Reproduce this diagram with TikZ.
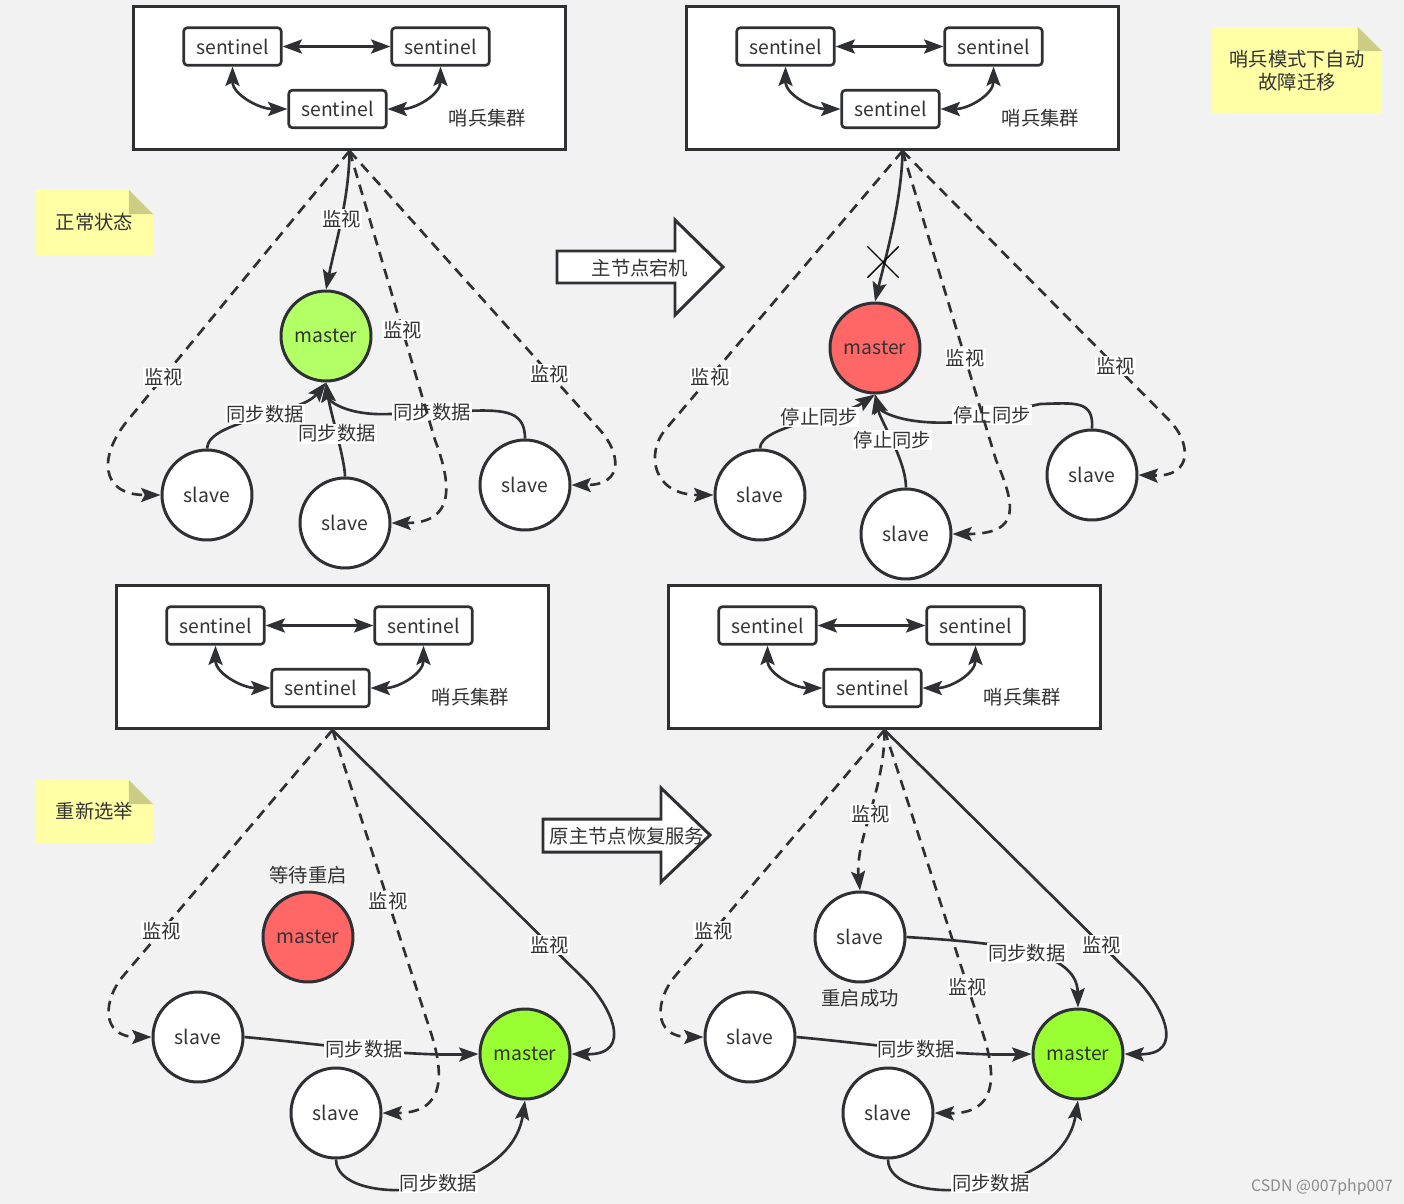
\documentclass[tikz,border=0pt]{standalone}
\usepackage{fontspec}
\setmainfont{Noto Sans CJK SC}
\usetikzlibrary{arrows.meta,positioning,shapes.misc}
\definecolor{bgc}{RGB}{242,242,242}
\definecolor{linec}{RGB}{46,48,52}
\definecolor{txtc}{RGB}{51,51,51}
\definecolor{okgreen}{RGB}{178,255,102}
\definecolor{newgreen}{RGB}{153,255,51}
\definecolor{downred}{RGB}{255,102,102}
\definecolor{notey}{RGB}{255,255,165}
\definecolor{notef}{RGB}{204,204,132}
\tikzset{
  txt/.style = {font=\fontsize{11}{13}\selectfont, text=txtc},
  clus/.style = {draw=linec, fill=white, line width=1.7pt,
    minimum width=8.66cm, minimum height=2.86cm},% cadre du groupe
  sen_n/.style = {txt, draw=linec, fill=white, line width=1.5pt,
    rounded corners=2pt, minimum width=1.95cm, minimum height=0.75cm,
    inner sep=0pt},% sentinelle
  rd/.style = {txt, circle, draw=linec, line width=1.7pt,
    minimum size=1.8cm, inner sep=0pt},% noeud rond
  slave_n/.style = {rd, fill=white},% esclave
  master_g/.style = {rd, fill=okgreen},% maitre, etat normal
  master_x/.style = {rd, fill=downred},% maitre en panne
  master_n/.style = {rd, fill=newgreen},% nouveau maitre
  lbl/.style = {txt, fill=white, inner sep=0.6pt},% etiquette de lien
  mon/.style = {->, draw=linec, line width=1.5pt},
  mon_d/.style = {mon, dash pattern=on 6pt off 4pt},
  blk/.style = {draw=linec, fill=white, line width=1.7pt, line join=miter},
  note_n/.style = {txt, fill=notey, inner sep=0pt,
    path picture={
      \fill[bgc] ([xshift=-0.48cm]path picture bounding box.north east)
        -- (path picture bounding box.north east)
        -- ([yshift=-0.48cm]path picture bounding box.north east) -- cycle;
      \fill[notef] ([xshift=-0.48cm]path picture bounding box.north east)
        -- ([xshift=-0.48cm,yshift=-0.48cm]path picture bounding box.north east)
        -- ([yshift=-0.48cm]path picture bounding box.north east) -- cycle;}},% note jaune
  wm_t/.style = {font=\fontsize{9}{11}\selectfont, text=black!45}
}
\begin{document}
\begin{tikzpicture}[x=0.02cm, y=-0.02cm,
                    >={Stealth[length=11pt,width=8pt,inset=2pt]}]
  \useasboundingbox (0,0) rectangle (1404,1204);
  \fill[bgc] (0,0) rectangle (1404,1204);

  \foreach \i/\bx/\by in {1/133/6, 2/686/6, 3/116/585, 4/668/585}{
    \node[clus] (cl\i) at ({\bx+216.5},{\by+72}) {};
    \node[sen_n] (sa\i) at ({\bx+99.5},{\by+40.5}) {sentinel};
    \node[sen_n] (sb\i) at ({\bx+307.5},{\by+40.5}) {sentinel};
    \node[sen_n] (sc\i) at ({\bx+204.5},{\by+103}) {sentinel};
    \node[txt] (lb\i) at ({\bx+354.5},{\by+112}) {哨兵集群};
    \draw[mon,<->] (sa\i) -- (sb\i);
    \draw[mon,<->] (sa\i.south) .. controls +(0,28) and +(-28,0) .. (sc\i.west);
    \draw[mon,<->] (sb\i.south) .. controls +(0,28) and +(28,0) .. (sc\i.east);
  }

  \node[note_n, minimum width=2.34cm, minimum height=1.3cm] (n1) at (94.5,222.5) {正常状态};
  \node[note_n, align=center, minimum width=3.4cm, minimum height=1.74cm] (n2) at (1297,70.5) {哨兵模式下自动\\故障迁移};
  \node[note_n, minimum width=2.34cm, minimum height=1.26cm] (n3) at (94.5,811.5) {重新选举};

  \draw[blk] (557,251) -- (675,251) -- (675,220) -- (723,267) -- (675,315) -- (675,283) -- (557,283) -- cycle;
  \node[txt] (ar1) at (640,268) {主节点宕机};
  \draw[blk] (543,819) -- (661,819) -- (661,788) -- (710,835) -- (661,882) -- (661,852) -- (543,852) -- cycle;
  \node[txt] (ar2) at (627,836) {原主节点恢复服务};

  \node[master_g] (m1) at (326,336) {master};
  \node[slave_n] (s11) at (207,495) {slave};
  \node[slave_n] (s12) at (345,523) {slave};
  \node[slave_n] (s13) at (525,485) {slave};
  \draw[mon] (s11.north) .. controls (208,420) and (300,415) .. (m1.south) node[lbl,pos=0.55] {同步数据};
  \draw[mon] (s13.north) .. controls (525,408) and (500,410) .. (460,411) -- (390,414) node[lbl,pos=0.4] {同步数据} .. controls (345,416) and (328,400) .. (m1.south);
  \draw[mon] (s12.north) .. controls (345,460) and (330,410) .. (m1.south) node[lbl,pos=0.5] {同步数据};
  \draw[mon] (cl1.south) .. controls (349,200) and (335,245) .. (m1.north) node[lbl,pos=0.48] {监视};
  \draw[mon_d] (cl1.south) -- (128,420) node[lbl,pos=0.84] {监视} .. controls (98,456) and (100,495) .. (s11.west);
  \draw[mon_d] (cl1.south) -- (435,440) node[lbl,pos=0.62] {监视} .. controls (452,485) and (455,523) .. (s12.east);
  \draw[mon_d] (cl1.south) -- (600,430) node[lbl,pos=0.8] {监视} .. controls (620,452) and (625,485) .. (s13.east);

  \node[master_x] (m2) at (875,348) {master};
  \node[slave_n] (s21) at (760,495) {slave};
  \node[slave_n] (s22) at (906,534) {slave};
  \node[slave_n] (s23) at (1092,475) {slave};
  \draw[mon] (s21.north) .. controls (760,425) and (840,418) .. (m2.south) node[lbl,pos=0.6] {停止同步};
  \draw[mon] (s23.north) .. controls (1094,400) and (1075,403) .. (1040,404) -- (960,422) node[lbl,pos=0.6] {停止同步} .. controls (900,426) and (880,410) .. (m2.south);
  \draw[mon] (s22.north) .. controls (906,460) and (880,420) .. (m2.south) node[lbl,pos=0.5] {停止同步};
  \draw[mon] (cl2.south) .. controls (902,200) and (885,260) .. (m2.north);
  \node[draw=black, cross out, line width=0.8pt, minimum size=0.6cm, inner sep=0pt] (x2) at (883,262) {};
  \draw[mon_d] (cl2.south) -- (665,430) node[lbl,pos=0.81] {监视} .. controls (646,453) and (652,495) .. (s21.west);
  \draw[mon_d] (cl2.south) -- (996,460) node[lbl,pos=0.67] {监视} .. controls (1015,505) and (1022,534) .. (s22.east);
  \draw[mon_d] (cl2.south) -- (1169,420) node[lbl,pos=0.8] {监视} .. controls (1190,441) and (1195,477) .. (s23.east);

  \node[master_x] (m3) at (308,937) {master};
  \node[txt, above=0pt of m3] (w3) {等待重启};
  \node[slave_n] (s31) at (198,1037) {slave};
  \node[slave_n] (s32) at (336,1113) {slave};
  \node[master_n] (mg3) at (525,1054) {master};
  \draw[mon] (s31.east) .. controls (330,1045) and (400,1056) .. (mg3.west) node[lbl,pos=0.5] {同步数据};
  \draw[mon] (s32.south) .. controls (336,1210) and (510,1200) .. (mg3.south) node[lbl,pos=0.55] {同步数据};
  \draw[mon_d] (cl3.south) -- (124,975) node[lbl,pos=0.82] {监视} .. controls (103,999) and (100,1037) .. (s31.west);
  \draw[mon_d] (cl3.south) -- (430,1030) node[lbl,pos=0.57] {监视} .. controls (445,1075) and (445,1113) .. (s32.east);
  \draw[mon] (cl3.south) -- (585,980) node[lbl,pos=0.86] {监视} .. controls (610,1005) and (635,1055) .. (mg3.east);

  \node[slave_n] (r4) at (860,937) {slave};
  \node[txt, below=0pt of r4] (ok4) {重启成功};
  \node[slave_n] (s41) at (750,1037) {slave};
  \node[slave_n] (s42) at (888,1113) {slave};
  \node[master_n] (mg4) at (1078,1054) {master};
  \draw[mon] (r4.east) .. controls (1000,943) and (1077,950) .. (mg4.north) node[lbl,pos=0.5] {同步数据};
  \draw[mon] (s41.east) .. controls (882,1045) and (952,1056) .. (mg4.west) node[lbl,pos=0.5] {同步数据};
  \draw[mon] (s42.south) .. controls (888,1210) and (1062,1200) .. (mg4.south) node[lbl,pos=0.55] {同步数据};
  \draw[mon_d] (cl4.south) .. controls (885,790) and (855,840) .. (r4.north) node[lbl,pos=0.5] {监视};
  \draw[mon_d] (cl4.south) -- (676,975) node[lbl,pos=0.82] {监视} .. controls (655,999) and (652,1037) .. (s41.west);
  \draw[mon_d] (cl4.south) -- (985,1040) node[lbl,pos=0.83] {监视} .. controls (995,1075) and (998,1114) .. (s42.east);
  \draw[mon] (cl4.south) -- (1137,980) node[lbl,pos=0.86] {监视} .. controls (1162,1005) and (1187,1055) .. (mg4.east);

  \node[wm_t] (wm) at (1322,1187) {CSDN @007php007};
\end{tikzpicture}
\end{document}
